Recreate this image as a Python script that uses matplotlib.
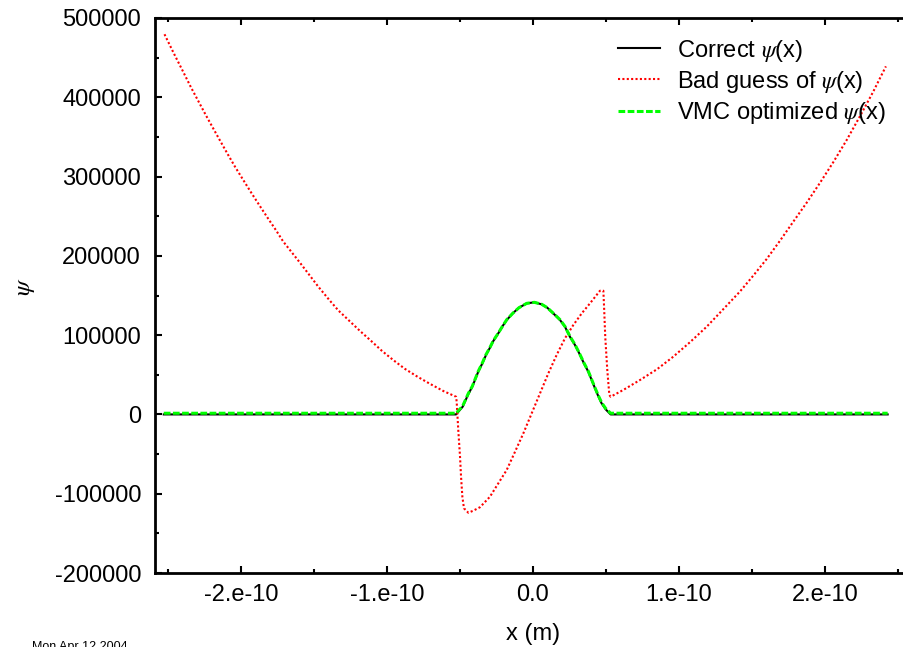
import numpy as np
import matplotlib
matplotlib.use("Agg")
import matplotlib.pyplot as plt
from matplotlib.ticker import MultipleLocator, FuncFormatter

plt.rcParams['font.family'] = ['Liberation Sans', 'DejaVu Sans']
plt.rcParams['mathtext.fontset'] = 'stix'

# values, x in units of 1e-10 m
x_correct = [-2.53, -0.527, -0.482, -0.443, -0.416, -0.375, -0.347, -0.322,
             -0.295, -0.272, -0.238, -0.208, -0.180, -0.139, -0.096, -0.043,
             0.009, 0.059, 0.098, 0.146, 0.185, 0.219, 0.253, 0.288,
             0.317, 0.349, 0.379, 0.402, 0.425, 0.447, 0.470, 0.498,
             0.532, 2.43]
psi_correct = [0, 0, 9700, 25700, 35000, 53900, 64400, 74900,
               84200, 92600, 102300, 111500, 119100, 127500, 134600, 140100,
               141400, 138900, 134600, 126200, 119100, 110600, 98000, 87500,
               77100, 64400, 53900, 43400, 32900, 23200, 14000, 6400,
               0, 0]

x_vmc = x_correct
psi_vmc = [1500, 1500, 10500, 26500, 35500, 54500, 65000, 75500,
           84500, 93000, 102500, 111500, 119500, 127500, 134600, 140100,
           141400, 139000, 134600, 126500, 119500, 111000, 98500, 88000,
           77500, 65000, 54500, 44000, 33500, 24000, 15000, 7500,
           1500, 1500]

x_bad = [-2.525, -2.464, -2.402, -2.342, -2.292, -2.242, -2.192, -2.142,
         -2.091, -2.041, -1.984, -1.929, -1.872, -1.817, -1.762, -1.712,
         -1.658, -1.596, -1.532, -1.471, -1.395, -1.334, -1.260, -1.185,
         -1.112, -1.036, -0.957, -0.877, -0.790, -0.705, -0.614, -0.527,
         -0.523, -0.512, -0.500, -0.493, -0.484, -0.473, -0.443, -0.409,
         -0.363, -0.295, -0.238, -0.180, -0.123, -0.066, -0.009, 0.048,
         0.105, 0.162, 0.219, 0.276, 0.334, 0.390, 0.459, 0.482,
         0.486, 0.495, 0.509, 0.523, 0.532, 0.620, 0.733, 0.850,
         0.961, 1.075, 1.190, 1.300, 1.418, 1.509, 1.601, 1.692,
         1.783, 1.875, 1.966, 2.057, 2.149, 2.240, 2.331, 2.418]
psi_bad = [479500, 456500, 434000, 412000, 394800, 377600, 361000, 344600,
           328000, 312200, 295300, 279200, 263000, 247600, 232600, 218200,
           205600, 191200, 175800, 161100, 144200, 131200, 118300, 105200,
           93200, 80300, 68500, 57400, 47400, 38500, 29500, 22300,
           16000, -19700, -53300, -78600, -103800, -118400, -124000, -121400,
           -117000, -103800, -87000, -70000, -47000, -23800, 1400, 26600,
           51800, 75000, 96000, 112700, 127500, 140000, 156000, 156000,
           140000, 98000, 56000, 24500, 22300, 31000, 43400, 57000,
           72800, 91000, 110600, 132000, 155000, 175000, 196000, 219000,
           243000, 267000, 292000, 318000, 346000, 376000, 407000, 439000]

xtick_vals = [-2e-10, -1e-10, 0.0, 1e-10, 2e-10]
xtick_text = ['-2.e-10', '-1.e-10', '0.0', '1.e-10', '2.e-10']

scale = 1e-10

fig = plt.figure(figsize=(9.04, 6.47), dpi=100)
# right edge of the frame runs off the picture, as in the original
ax = fig.add_axes([155 / 904, 74 / 647, 756 / 904, 555 / 647])

ax.plot(np.array(x_correct) * scale, psi_correct, color='black', lw=1.5,
        label=r'Correct $\psi$(x)')
ax.plot(np.array(x_bad) * scale, psi_bad, color='#ff0000', lw=1.5,
        linestyle=(0, (1, 1.1)), label=r'Bad guess of $\psi$(x)')
ax.plot(np.array(x_vmc) * scale, psi_vmc, color='#00ff00', lw=2.2,
        linestyle=(0, (2.2, 0.8)), label=r'VMC optimized $\psi$(x)')

ax.set_xlim(-2.59e-10, 2.59e-10)
ax.set_ylim(-200000, 500000)

ax.xaxis.set_minor_locator(MultipleLocator(0.5e-10))
ax.yaxis.set_major_locator(MultipleLocator(100000))
ax.yaxis.set_minor_locator(MultipleLocator(50000))
ax.set_xticks(xtick_vals)
ax.set_xticklabels(xtick_text)
ax.yaxis.set_major_formatter(FuncFormatter(lambda v, p: '%d' % v))

ax.spines['right'].set_visible(False)
ax.tick_params(which='both', direction='in', top=True, right=False, width=1.5, labelsize=17)
ax.tick_params(which='major', length=5)
ax.tick_params(which='minor', length=3)
ax.tick_params(axis='x', pad=8)
ax.tick_params(axis='y', pad=10)
for s in ax.spines.values():
    s.set_linewidth(2)

ax.set_xlabel('x (m)', fontsize=17, labelpad=12)
fig.text(25 / 904, 1 - 287 / 647, r'$\psi$', rotation=90, fontsize=18,
         ha='center', va='center')

fig.text(32 / 904, 1 - 641 / 647, 'Mon Apr 12 2004', fontsize=9, ha='left', va='top')

ax.legend(loc='upper left', bbox_to_anchor=(618 / 904, 1 - 37.5 / 647),
          bbox_transform=fig.transFigure, frameon=False, fontsize=17,
          handlelength=1.78, handletextpad=0.72, labelspacing=0.22,
          borderpad=0, borderaxespad=0)

fig.savefig('out.png', dpi=100)
